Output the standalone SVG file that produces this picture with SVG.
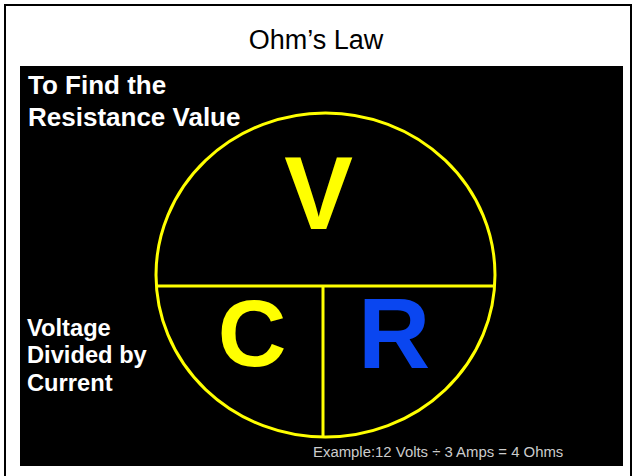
<svg xmlns="http://www.w3.org/2000/svg" width="632" height="476" viewBox="0 0 632 476">
<style>
.lbl{font-family:"Liberation Sans",Arial,sans-serif;font-weight:bold;fill:#ffffff}
.big{font-family:"Liberation Sans",Arial,sans-serif;font-weight:bold;text-anchor:middle}
.yl{fill:none;stroke:#ffff00;stroke-width:3}
</style>
<rect x="0" y="0" width="632" height="476" fill="#ffffff"/>
<rect x="5" y="5" width="626" height="480" fill="none" stroke="#000000" stroke-width="2"/>
<text x="316" y="49" font-family="Liberation Sans,Arial,sans-serif" font-size="27" text-anchor="middle" fill="#000000">Ohm’s Law</text>
<rect id="panel" x="20" y="66" width="603" height="400" fill="#000000"/>
<g id="heading">
<text class="lbl" x="28" y="94" font-size="26">To Find the</text>
<text class="lbl" x="28" y="126" font-size="26">Resistance Value</text>
</g>
<g id="side">
<text class="lbl" x="27" y="336" font-size="23.7">Voltage</text>
<text class="lbl" x="27" y="363" font-size="23.7">Divided by</text>
<text class="lbl" x="27" y="391" font-size="23.7">Current</text>
</g>
<g id="connectors">
<ellipse class="yl" cx="325.5" cy="275" rx="169.5" ry="162"/>
<line class="yl" x1="157" y1="286" x2="494" y2="286"/>
<line class="yl" x1="323" y1="286" x2="323" y2="437"/>
</g>
<g id="nodeV"><text class="big" x="318.5" y="229" font-size="103" fill="#ffff00">V</text></g>
<g id="nodeC"><text class="big" x="252" y="366" font-size="95" fill="#ffff00">C</text></g>
<g id="nodeR"><text class="big" x="394" y="368" font-size="100" fill="#0a46f0">R</text></g>
<text id="example" x="313" y="457" font-family="Liberation Sans,Arial,sans-serif" font-size="14.9" fill="#cccccc">Example:12 Volts ÷ 3 Amps = 4 Ohms</text>
</svg>
